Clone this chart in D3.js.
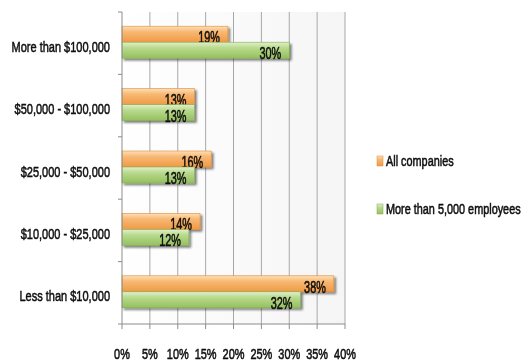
<!DOCTYPE html>
<html>
<head>
<meta charset="utf-8">
<script src="https://cdn.jsdelivr.net/npm/d3@7"></script>
<style>
  html, body { margin: 0; padding: 0; background: #fff; }
  svg { display: block; }
  text { font-family: "Liberation Sans", Arial, sans-serif; fill: #0d0d0d; stroke: #0d0d0d; stroke-width: 0.55; }
</style>
</head>
<body>
<svg id="chart" width="526" height="361"></svg>
<script>
// Salary bands, listed top to bottom
const categories = ["More than $100,000", "$50,000 - $100,000", "$25,000 - $50,000", "$10,000 - $25,000", "Less than $10,000"];
const seriesNames = ["All companies", "More than 5,000 employees"];
const allCompanies = [19, 13, 16, 14, 38];
const largeCompanies = [30, 13, 13, 12, 32];
const xTicks = [0, 5, 10, 15, 20, 25, 30, 35, 40];

const svg = d3.select("#chart");
const plotLeft = 122, plotRight = 345, plotTop = 12, plotBottom = 324;

const x = d3.scaleLinear().domain([0, 40]).range([plotLeft, plotRight]);
const y = d3.scaleBand().domain(categories).range([plotTop, plotBottom]);

// Text placed at (tx, ty) and squeezed horizontally by factor k
function label(sel, tx, ty, k) {
  return sel.attr("x", 0).attr("y", 0)
    .attr("transform", (d, i) => `translate(${tx(d, i)},${ty(d, i)}) scale(${k},1)`);
}

const defs = svg.append("defs");
const mkGrad = (id, stops) => {
  const g = defs.append("linearGradient").attr("id", id).attr("x1", 0).attr("y1", 0).attr("x2", 0).attr("y2", 1);
  stops.forEach(([o, c]) => g.append("stop").attr("offset", o).attr("stop-color", c));
};
mkGrad("gOrange", [[0, "#fde0b8"], [0.35, "#f8b873"], [1, "#ef9a45"]]);
mkGrad("gGreen", [[0, "#e2f0cc"], [0.35, "#b9da8e"], [1, "#94c05e"]]);
const bgGrad = defs.append("linearGradient").attr("id", "gBg").attr("x1", 0).attr("y1", 0).attr("x2", 1).attr("y2", 0);
bgGrad.append("stop").attr("offset", 0).attr("stop-color", "#ffffff");
bgGrad.append("stop").attr("offset", 1).attr("stop-color", "#f5f5f5");
const shadow = defs.append("filter").attr("id", "shadow").attr("x", "-10%").attr("y", "-30%").attr("width", "130%").attr("height", "180%");
shadow.append("feDropShadow").attr("dx", 2).attr("dy", 2).attr("stdDeviation", 1.2).attr("flood-color", "#000").attr("flood-opacity", 0.5);
const blur = defs.append("filter").attr("id", "soft");
blur.append("feGaussianBlur").attr("stdDeviation", 0.35);

const root = svg.append("g").attr("filter", "url(#soft)");

// Plot background
root.append("rect").attr("x", plotLeft).attr("y", plotTop).attr("width", plotRight - plotLeft).attr("height", plotBottom - plotTop).attr("fill", "url(#gBg)");

// Vertical gridlines
root.append("g").selectAll("line").data(xTicks.slice(1)).join("line")
  .attr("x1", d => x(d)).attr("x2", d => x(d)).attr("y1", plotTop).attr("y2", plotBottom)
  .attr("stroke", "#a8a8a8").attr("stroke-width", 1);

// Bars with value labels
const barH = 16;
const series = [
  { name: seriesNames[0], values: allCompanies, fill: "url(#gOrange)", edge: "#e08a35", dy: -17 },
  { name: seriesNames[1], values: largeCompanies, fill: "url(#gGreen)", edge: "#82ad4e", dy: -1 }
];
series.forEach(s => {
  const g = root.append("g");
  g.selectAll("rect").data(categories).join("rect")
    .attr("x", x(0))
    .attr("y", d => y(d) + y.bandwidth() / 2 + s.dy)
    .attr("width", (d, i) => x(s.values[i]) - x(0))
    .attr("height", barH)
    .attr("fill", s.fill)
    .attr("stroke", s.edge).attr("stroke-width", 0.6)
    .attr("filter", "url(#shadow)");
  label(g.selectAll("text").data(categories).join("text"),
        (d, i) => x(s.values[i]) - 8,
        d => y(d) + y.bandwidth() / 2 + s.dy + barH + 1, 0.68)
    .attr("text-anchor", "end")
    .attr("font-size", 16)
    .text((d, i) => s.values[i] + "%");
});

// Left axis
const yAxis = root.append("g");
yAxis.append("line").attr("x1", plotLeft).attr("x2", plotLeft).attr("y1", plotTop).attr("y2", plotBottom).attr("stroke", "#8c8c8c");
const bounds = [plotTop, ...categories.map(c => y(c) + y.bandwidth())];
yAxis.selectAll("line.tick").data(bounds).join("line").attr("class", "tick")
  .attr("x1", plotLeft - 4).attr("x2", plotLeft).attr("y1", d => d).attr("y2", d => d).attr("stroke", "#8c8c8c");
label(yAxis.selectAll("text").data(categories).join("text"),
      () => 110, d => y(d) + y.bandwidth() / 2 + 8.5, 0.71)
  .attr("text-anchor", "end").attr("font-size", 15.5)
  .text(d => d);

// Bottom axis
const xAxis = root.append("g");
xAxis.append("line").attr("x1", plotLeft).attr("x2", plotRight).attr("y1", plotBottom).attr("y2", plotBottom).attr("stroke", "#8c8c8c");
xAxis.selectAll("line.tick").data(xTicks).join("line").attr("class", "tick")
  .attr("x1", d => x(d)).attr("x2", d => x(d)).attr("y1", plotBottom).attr("y2", plotBottom + 5).attr("stroke", "#8c8c8c");
label(xAxis.selectAll("text").data(xTicks).join("text"),
      d => x(d), () => 359, 0.73)
  .attr("text-anchor", "middle").attr("font-size", 15)
  .text(d => d + "%");

// Legend
const legend = root.append("g");
const legendY = [166, 214];
const swatchFill = ["url(#gOrange)", "url(#gGreen)"];
seriesNames.forEach((name, i) => {
  legend.append("rect").attr("x", 377).attr("y", legendY[i] - 10).attr("width", 6).attr("height", 10)
    .attr("fill", swatchFill[i]).attr("stroke", series[i].edge).attr("stroke-width", 0.5);
  legend.append("text").attr("x", 0).attr("y", 0)
    .attr("transform", `translate(386,${legendY[i]}) scale(0.75,1)`)
    .attr("font-size", 14.5).text(name);
});
</script>
</body>
</html>
